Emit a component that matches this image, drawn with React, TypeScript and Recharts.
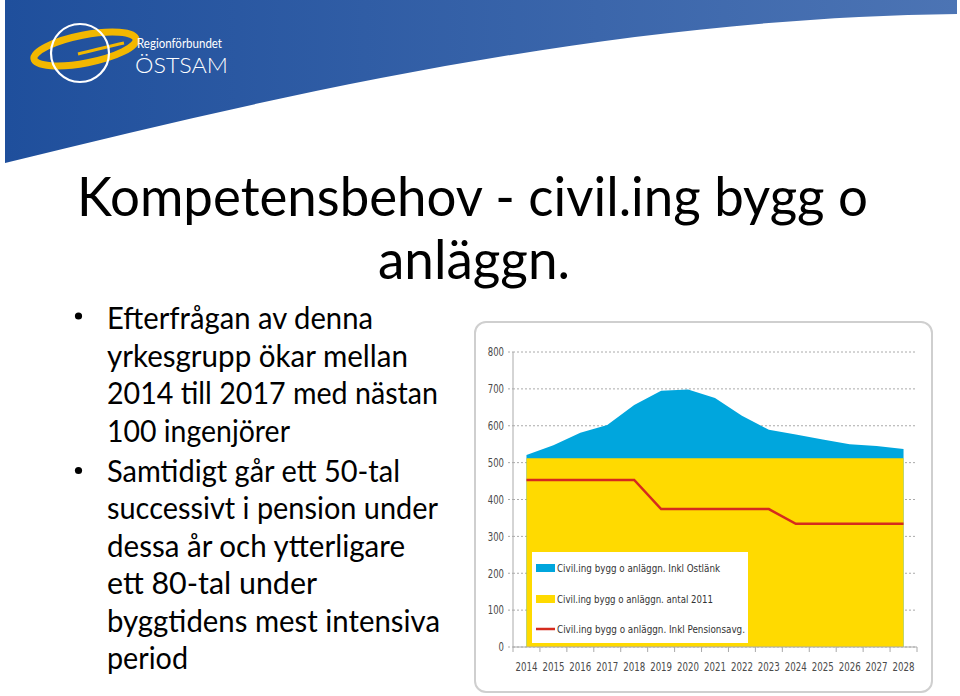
import React from 'react';
import { ComposedChart, Area, Line, XAxis, YAxis, CartesianGrid, Legend } from 'recharts';

// ---- data ----
const years = ['2014', '2015', '2016', '2017', '2018', '2019', '2020', '2021', '2022', '2023', '2024', '2025', '2026', '2027', '2028'];
const inklOstlank = [521, 547, 581, 602, 656, 695, 698, 675, 627, 589, 576, 563, 550, 545, 537];
const antal2011 = [512, 512, 512, 512, 512, 512, 512, 512, 512, 512, 512, 512, 512, 512, 512];
const inklPension = [453, 453, 453, 453, 453, 374, 374, 374, 374, 374, 334, 334, 334, 334, 334];
const yTicks = [0, 100, 200, 300, 400, 500, 600, 700, 800];
const seriesNames = [
  'Civil.ing bygg o anläggn. Inkl Ostlänk',
  'Civil.ing bygg o anläggn. antal 2011',
  'Civil.ing bygg o anläggn. Inkl Pensionsavg.',
];
const titleLines = ['Kompetensbehov - civil.ing bygg o', 'anläggn.'];
const bullet1 = ['Efterfrågan av denna', 'yrkesgrupp ökar mellan', '2014 till 2017 med nästan', '100 ingenjörer'];
const bullet2 = ['Samtidigt går ett 50-tal', 'successivt i pension under', 'dessa år och ytterligare', 'ett 80-tal under', 'byggtidens mest intensiva', 'period'];

const data = years.map((year, i) => ({
  year,
  ostlank: inklOstlank[i],
  antal: antal2011[i],
  pension: inklPension[i],
}));

// ---- styles / layout ----
const BLUE = '#00A6DD';
const YELLOW = '#FFDA00';
const RED = '#D52B1E';
const AXIS_GRAY = '#aaaaaa';
const LABEL_GRAY = '#4a4a4a';
const CONDENSED = '"Liberation Sans Narrow", "DejaVu Sans Condensed", "Roboto", sans-serif';
const SLIDE_FONT = 'Lato, "Open Sans", sans-serif';

const CH_LEFT = 474;
const CH_TOP = 321;
const CH_W = 459;
const CH_H = 372;
const MARGIN = { top: 31, right: 16, bottom: 16, left: 0 };
const Y_W = 39;
const PLOT_W = CH_W - MARGIN.left - MARGIN.right - Y_W;
const BW = PLOT_W / years.length;

const bullet1Widths = [266, 301, 331, 183];
const bullet2Widths = [293, 331, 298, 210, 333, 81];
const bullet1Base = [329, 366.5, 404, 441.5];
const bullet2Base = [481.5, 519, 556.5, 594, 631.5, 669];
const legendTextWidths = [163, 156, 188];
const LEG_W = 216;
const LEG_H = 91;
const LEG_SVG_W = 270;

const XTick = (props: any) => {
  const { x, y, payload, index } = props;
  const half = BW / 2;
  return (
    <g>
      <line x1={x - half} x2={x - half} y1={y} y2={y + 5} stroke={AXIS_GRAY} />
      {index === years.length - 1 && (
        <line x1={x + half} x2={x + half} y1={y} y2={y + 5} stroke={AXIS_GRAY} />
      )}
      <text
        x={x}
        y={y + 24}
        textAnchor="middle"
        fontFamily={CONDENSED}
        fontSize={11.5}
        fill={LABEL_GRAY}
        textLength={22}
        lengthAdjust="spacingAndGlyphs"
      >
        {payload.value}
      </text>
    </g>
  );
};

const YTick = (props: any) => {
  const { x, y, payload } = props;
  const s = String(payload.value);
  return (
    <text
      x={x}
      y={y}
      dy="0.36em"
      textAnchor="end"
      fontFamily={CONDENSED}
      fontSize={12}
      fill={LABEL_GRAY}
      textLength={s.length * 5.4}
      lengthAdjust="spacingAndGlyphs"
    >
      {s}
    </text>
  );
};

const LegendBox = () => {
  const rows = [16, 47, 77];
  return (
    <svg width={LEG_SVG_W} height={LEG_H} style={{ display: 'block', overflow: 'visible' }}>
      <rect x={0} y={0} width={LEG_W} height={LEG_H} fill="#ffffff" />
      <rect x={4} y={rows[0] - 4} width={19} height={8} fill={BLUE} />
      <rect x={4} y={rows[1] - 4} width={19} height={8} fill={YELLOW} />
      <line x1={4} x2={23} y1={rows[2]} y2={rows[2]} stroke={RED} strokeWidth={2.5} />
      {seriesNames.map((name, i) => (
        <text
          key={name}
          x={25}
          y={rows[i]}
          dy="0.36em"
          fontFamily={CONDENSED}
          fontSize={11}
          fill="#333333"
          textLength={legendTextWidths[i]}
          lengthAdjust="spacingAndGlyphs"
        >
          {name}
        </text>
      ))}
    </svg>
  );
};

export default function App() {
  return (
    <div
      style={{
        position: 'absolute',
        left: 0,
        top: 0,
        width: 960,
        height: 696,
        overflow: 'hidden',
        background: '#ffffff',
      }}
    >
      <svg width={960} height={696} style={{ position: 'absolute', left: 0, top: 0 }}>
        <defs>
          <linearGradient id="hdr" x1="0" y1="0" x2="1" y2="0">
            <stop offset="0" stopColor="#1F4F9C" />
            <stop offset="1" stopColor="#4C74B4" />
          </linearGradient>
        </defs>
        <path d="M5,0 L957,0 L957,14 C620,18 300,90 5,163 Z" fill="url(#hdr)" />
        {/* logo */}
        <ellipse cx={85} cy={49} rx={52} ry={14} transform="rotate(-11 85 49)" fill="none" stroke="#F2B700" strokeWidth={7} />
        <path d="M78,54 C95,50 110,46 124,43" fill="none" stroke="#F2B700" strokeWidth={3} />
        <circle cx={80} cy={53} r={29} fill="none" stroke="#ffffff" strokeWidth={2.2} />
        <text x={137} y={48} fill="#ffffff" fontFamily={SLIDE_FONT} fontSize={12.5} textLength={85} lengthAdjust="spacingAndGlyphs">
          Regionförbundet
        </text>
        <text x={135} y={73} fill="#ffffff" fontFamily={SLIDE_FONT} fontSize={22} fontWeight={300} textLength={93} lengthAdjust="spacingAndGlyphs">
          ÖSTSAM
        </text>
        {/* title */}
        <text x={77} y={216} fontFamily={SLIDE_FONT} fontSize={55} fill="#000" textLength={791} lengthAdjust="spacingAndGlyphs">
          {titleLines[0]}
        </text>
        <text x={378} y={279} fontFamily={SLIDE_FONT} fontSize={55} fill="#000" textLength={192} lengthAdjust="spacingAndGlyphs">
          {titleLines[1]}
        </text>
        {/* bullets */}
        <circle cx={78.5} cy={bullet1Base[0] - 13} r={3.6} fill="#000" />
        {bullet1.map((t, i) => (
          <text key={t} x={107} y={bullet1Base[i]} fontFamily={SLIDE_FONT} fontSize={31} fill="#000" textLength={bullet1Widths[i]} lengthAdjust="spacingAndGlyphs">
            {t}
          </text>
        ))}
        <circle cx={78.5} cy={bullet2Base[0] - 11} r={3.6} fill="#000" />
        {bullet2.map((t, i) => (
          <text key={t} x={107} y={bullet2Base[i]} fontFamily={SLIDE_FONT} fontSize={31} fill="#000" textLength={bullet2Widths[i]} lengthAdjust="spacingAndGlyphs">
            {t}
          </text>
        ))}
      </svg>

      <div
        style={{
          position: 'absolute',
          left: CH_LEFT,
          top: CH_TOP,
          width: CH_W,
          height: CH_H,
          boxSizing: 'border-box',
          border: '2px solid #cfcfcf',
          borderRadius: 12,
          background: '#ffffff',
        }}
      />
      <div style={{ position: 'absolute', left: CH_LEFT, top: CH_TOP }}>
        <ComposedChart width={CH_W} height={CH_H} data={data} margin={MARGIN}>
          <CartesianGrid vertical={false} stroke={AXIS_GRAY} strokeDasharray="2 2" />
          <XAxis
            dataKey="year"
            padding={{ left: BW / 2, right: BW / 2 }}
            height={30}
            tickSize={0}
            tickMargin={0}
            tickLine={false}
            axisLine={{ stroke: AXIS_GRAY }}
            interval={0}
            tick={<XTick />}
          />
          <YAxis
            width={Y_W}
            domain={[0, 800]}
            ticks={yTicks}
            interval={0}
            tickSize={5}
            tickMargin={4}
            tickLine={{ stroke: AXIS_GRAY, strokeDasharray: '2 2' }}
            axisLine={{ stroke: AXIS_GRAY }}
            tick={<YTick />}
          />
          <Area dataKey="ostlank" name={seriesNames[0]} type="linear" fill={BLUE} fillOpacity={1} stroke="none" isAnimationActive={false} />
          <Area dataKey="antal" name={seriesNames[1]} type="linear" fill={YELLOW} fillOpacity={1} stroke="none" isAnimationActive={false} />
          <Line dataKey="pension" name={seriesNames[2]} type="linear" stroke={RED} strokeWidth={2.5} dot={false} isAnimationActive={false} />
          <Legend
            layout="vertical"
            align="center"
            verticalAlign="middle"
            content={<LegendBox />}
            wrapperStyle={{ left: 58, top: 231, width: LEG_SVG_W, height: LEG_H }}
          />
        </ComposedChart>
      </div>
    </div>
  );
}
